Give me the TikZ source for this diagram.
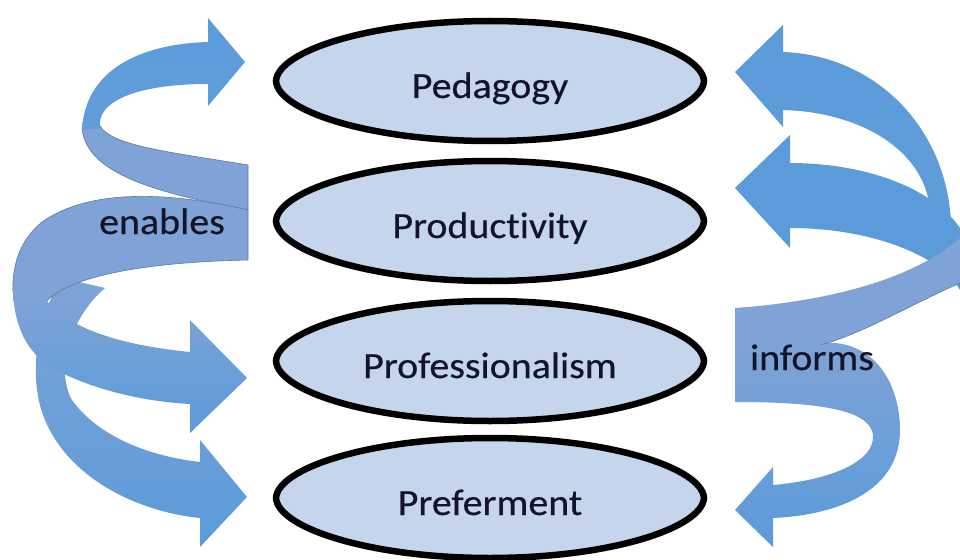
\documentclass[tikz,border=0pt]{standalone}
\usepackage{fontspec}
\setmainfont{Carlito}[FakeStretch=1.08, Ligatures=NoCommon, FakeBold=0.4]
\usetikzlibrary{shapes.geometric}
\definecolor{abright}{HTML}{5B9BDA}
\definecolor{amuted}{HTML}{7FA3D6}
\definecolor{efill}{HTML}{C5D5EB}
\definecolor{txt}{HTML}{141428}
\begin{document}
\begin{tikzpicture}[x=1pt,y=-1pt,
  ovalline/.style={draw=black, line width=6.5pt, fill=efill},
  ovaltext/.style={inner sep=0pt, text height=32pt, text depth=0pt,
    font=\fontsize{37}{40}\selectfont, text=txt},
  lbl/.style={font=\fontsize{37}{40}\selectfont, text=txt, inner sep=0pt, anchor=base},
  seam/.style={draw=amuted!75!black, line width=0.6pt}]
\useasboundingbox (0,0) rectangle (960,559);
\fill[white] (0,0) rectangle (960,559);

% ---------- left spiral ----------
\path[top color=amuted, bottom color=abright]
  (62,278) .. controls (35,320) and (28,380) .. (45,420)
  .. controls (70,480) and (140,512) .. (200,518) -- (200,547) -- (247,497)
  -- (200,440) -- (200,462) .. controls (140,455) and (95,432) .. (72,400)
  .. controls (55,370) and (70,318) .. (105,288) -- cycle;
\path[fill=amuted, seam]
  (82,128) .. controls (86,172) and (150,192) .. (248,210) -- (248,165)
  .. controls (170,152) and (112,146) .. (100,126) -- cycle;
\path[top color=abright, bottom color=abright!80!amuted]
  (245,62) -- (208,18) -- (208,42) .. controls (140,44) and (85,70) .. (82,130)
  -- (100,128) .. controls (96,100) and (140,84) .. (208,84) -- (208,106) -- cycle;
\path[fill=amuted, seam]
  (248,210) .. controls (170,192) and (90,188) .. (42,222)
  .. controls (20,240) and (12,265) .. (13,292) -- (46,302)
  .. controls (70,275) and (150,262) .. (248,260) -- cycle;
\path[top color=amuted, bottom color=abright]
  (13,290) .. controls (14,330) and (30,358) .. (60,372)
  .. controls (100,392) and (150,402) .. (190,404) -- (190,433) -- (247,378)
  -- (190,320) -- (190,352) .. controls (130,346) and (72,332) .. (46,300) -- cycle;

% ---------- right spiral ----------
\path[top color=abright, bottom color=abright!80!amuted]
  (735,72) -- (783,25) -- (783,52) .. controls (870,55) and (940,120) .. (950,210)
  -- (958,285) -- (932,288) -- (930,210) .. controls (925,150) and (860,112) .. (783,110)
  -- (783,127) -- cycle;
\path[fill=abright]
  (735,188) -- (790,135) -- (790,163) .. controls (860,163) and (930,185) .. (960,228)
  -- (960,290) .. controls (940,255) and (870,228) .. (790,228) -- (790,248) -- cycle;
\path[top color=amuted, bottom color=abright]
  (735,345) -- (820,343) .. controls (875,338) and (900,385) .. (900,430)
  .. controls (900,490) and (840,515) .. (773,518) -- (773,547) -- (735,510)
  -- (773,467) -- (773,485) .. controls (830,480) and (875,462) .. (873,435)
  .. controls (870,410) and (820,402) .. (735,402) -- cycle;
\path[fill=amuted]
  (735,308) .. controls (820,302) and (910,282) .. (960,238) -- (960,283)
  .. controls (910,305) and (860,335) .. (820,345) -- (735,350) -- cycle;
\draw[seam] (820,345) .. controls (860,335) and (910,305) .. (960,283);

% ---------- ellipses (lens-like ovals) ----------
\foreach \cy in {81,221,361,498}{
  \draw[ovalline, shift={(490,\cy)}]
    (-214,0) .. controls (-212,-30) and (-120,-60) .. (0,-60)
    .. controls (120,-60) and (212,-30) .. (214,0)
    .. controls (212,30) and (120,60) .. (0,60)
    .. controls (-120,60) and (-212,30) .. (-214,0) -- cycle;
}
\node[ovaltext] (ped) at (490,82) {Pedagogy};
\node[ovaltext] (pro) at (490,222) {Productivity};
\node[ovaltext] (prf) at (490,362) {Professionalism};
\node[ovaltext] (pre) at (490,499) {Preferment};

% ---------- labels ----------
\node[lbl] (en) at (162,234) {enables};
\node[lbl] (inf) at (812,370) {informs};
\end{tikzpicture}
\end{document}
